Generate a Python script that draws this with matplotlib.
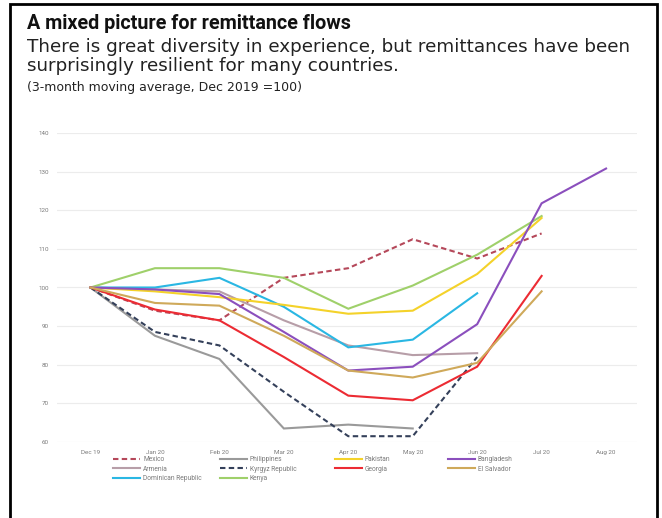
import matplotlib
matplotlib.use("Agg")
import matplotlib.pyplot as plt
from matplotlib.patches import Rectangle
import numpy as np

plt.rcParams["font.family"] = ["Roboto", "DejaVu Sans"]

months = ["Dec 19", "Jan 20", "Feb 20", "Mar 20", "Apr 20", "May 20",
          "Jun 20", "Jul 20", "Aug 20"]
y_ticks = [60, 70, 80, 90, 100, 110, 120, 130, 140]

# values (None = no data)
mexico = [100, 94, 91.5, 102.5, 105, 112.5, 107.5, 114, None]
armenia = [100, 99.5, 99, 91.5, 85, 82.5, 83, None, None]
dominican = [100, 100, 102.5, 95, 84.5, 86.5, 98.5, None, None]
philippines = [100, 87.5, 81.5, 63.5, 64.5, 63.5, None, None, None]
kyrgyz = [100, 88.5, 85, 73, 61.5, 61.5, 82, None, None]
kenya = [100, 105, 105, 102.5, 94.5, 100.5, 108.5, 118.5, None]
pakistan = [100, 99, 97.5, 95.5, 93.2, 94, 103.5, 118, None]
georgia = [100, 94.3, 91.5, 82, 72, 70.8, 79.5, 103, None]
bangladesh = [100, 99.5, 98.3, 88.5, 78.5, 79.5, 90.5, 121.8, 130.8]
el_salvador = [100, 96, 95.3, 87.5, 78.5, 76.7, 80.5, 99, None]

# legend order is column-major to get the row layout of the original
series = [
    ("Mexico", mexico, "#b5485a", "dash"),
    ("Armenia", armenia, "#b79ea8", "solid"),
    ("Dominican Republic", dominican, "#2ab7e3", "solid"),
    ("Philippines", philippines, "#9a9a9a", "solid"),
    ("Kyrgyz Republic", kyrgyz, "#34405a", "dash"),
    ("Kenya", kenya, "#9fd06a", "solid"),
    ("Pakistan", pakistan, "#f4d22a", "solid"),
    ("Georgia", georgia, "#ec2b33", "solid"),
    ("Bangladesh", bangladesh, "#8b4fbd", "solid"),
    ("El Salvador", el_salvador, "#cfa95a", "solid"),
]

fig = plt.figure(figsize=(6.62, 5.18), dpi=100)
ax = fig.add_axes([57 / 662, 1 - 442 / 518, 580 / 662, 309 / 518])

x = np.arange(len(months))
handles = []
for name, vals, col, ls in series:
    v = np.array([np.nan if a is None else a for a in vals], dtype=float)
    style = (0, (2.6, 1.6)) if ls == "dash" else "-"
    h, = ax.plot(x, v, color=col, lw=1.5, ls=style, label=name,
                 solid_joinstyle="miter")
    handles.append(h)

ax.set_xlim(-0.52, 8.48)
ax.set_ylim(60, 140)
ax.set_xticks(x)
ax.set_xticklabels(months)
ax.set_yticks(y_ticks)
ax.tick_params(length=0, labelsize=4.5, labelcolor="#7a7a7a", pad=6)
ax.grid(axis="y", color="#ececec", lw=0.8)
for s in ax.spines.values():
    s.set_visible(False)

# one legend per column so the columns sit evenly spaced
col_x = [113, 220, 335, 448]
cols = [handles[0:3], handles[3:6], handles[6:8], handles[8:10]]
for cx, hs in zip(col_x, cols):
    lg = fig.legend(handles=hs, loc="upper left",
                    bbox_to_anchor=(cx / 662, 1 - 456 / 518),
                    frameon=False, fontsize=4.8, handlelength=4.0,
                    handletextpad=0.5, labelspacing=0.4,
                    borderaxespad=0, borderpad=0)
    for t in lg.get_texts():
        t.set_color("#7a7a7a")

fig.text(27 / 662, 1 - 29.5 / 518, "A mixed picture for remittance flows",
         fontsize=14.2, fontweight="bold", color="#111111")
fig.text(27 / 662, 1 - 51.5 / 518,
         "There is great diversity in experience, but remittances have been",
         fontsize=13.2, color="#222222", family="DejaVu Sans")
fig.text(27 / 662, 1 - 71 / 518, "surprisingly resilient for many countries.",
         fontsize=13.2, color="#222222", family="DejaVu Sans")
fig.text(27 / 662, 1 - 91 / 518, "(3-month moving average, Dec 2019 =100)",
         fontsize=9.0, color="#222222", family="DejaVu Sans")

fig.patches.append(Rectangle((10 / 662, -0.02), 647 / 662, 1 - 4 / 518 + 0.02,
                             transform=fig.transFigure, fill=False,
                             edgecolor="black", lw=2))

fig.savefig("out.png", dpi=100)
